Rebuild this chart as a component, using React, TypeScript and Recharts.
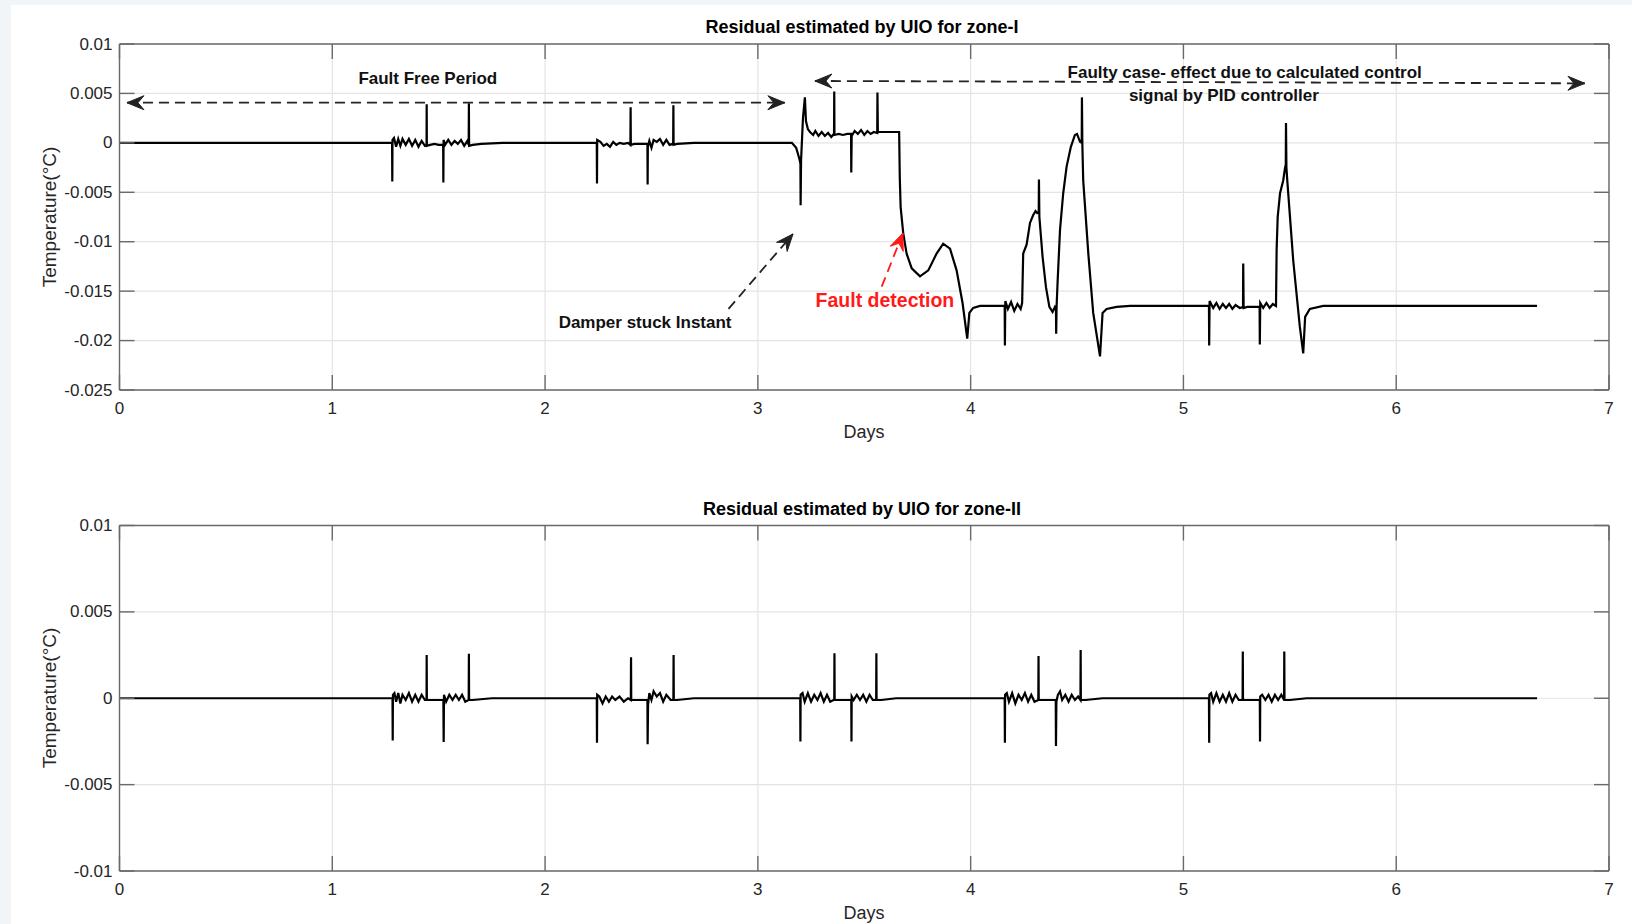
import React from "react";
import { LineChart, Line, XAxis, YAxis, CartesianGrid, ReferenceLine, ReferenceDot } from "recharts";

const FONT = '"Liberation Sans", Arial, Helvetica, sans-serif';
const AXIS = "#6a6a6a";
const GRID = "#e4e4e4";
const TEXT = "#262626";
const TICK_LEN = 15;
const CHART_W = 1632;
const CHART_H = 462;

const dayTicks = [0, 1, 2, 3, 4, 5, 6, 7];
const dayTickLabels = ["0", "1", "2", "3", "4", "5", "6", "7"];

const zone1Ticks = [-0.025, -0.02, -0.015, -0.01, -0.005, 0, 0.005, 0.01];
const zone1TickLabels = ["-0.025", "-0.02", "-0.015", "-0.01", "-0.005", "0", "0.005", "0.01"];

const zone2Ticks = [-0.01, -0.005, 0, 0.005, 0.01];
const zone2TickLabels = ["-0.01", "-0.005", "0", "0.005", "0.01"];

// [day, residual]
const zone1Residual: [number, number][] = [
  [0, 0], [1.281, 0], [1.282, -0.0039], [1.283, 0.0003],
  [1.29, 0.0005], [1.3, -0.0004], [1.31, 0.0004], [1.32, -0.0003], [1.33, 0.0004], [1.345, -0.0002],
  [1.36, 0.0004], [1.375, -0.0003], [1.39, 0.0003], [1.405, -0.0004], [1.42, 0.0002], [1.435, -0.0003],
  [1.443, -0.0002], [1.4436, 0.0039], [1.4445, -0.0003],
  [1.46, -0.0002], [1.48, -0.0001], [1.5, -0.0002], [1.521, -0.0002],
  [1.522, -0.004], [1.523, 0.0003], [1.53, -0.0002], [1.545, 0.0003], [1.56, -0.0002], [1.575, 0.0002],
  [1.59, -0.0001], [1.605, 0.0003], [1.62, -0.0003], [1.635, 0.0002],
  [1.641, -0.0002], [1.642, 0.004], [1.643, -0.0003],
  [1.66, -0.0002], [1.7, -0.0001], [1.8, 0],
  [2.243, 0], [2.244, -0.0041], [2.245, 0.0003], [2.26, 0.0001], [2.275, -0.0003], [2.29, -0.0001],
  [2.305, -0.0004], [2.32, 0.0001], [2.335, -0.0002], [2.35, 0], [2.37, -0.0001], [2.39, 0],
  [2.401, -0.0002], [2.402, 0.0036], [2.403, -0.0002],
  [2.42, -0.0001], [2.45, -0.0001], [2.481, -0.0001], [2.482, -0.0042], [2.483, -0.0004],
  [2.49, 0.0002], [2.5, -0.0005], [2.51, 0.0003], [2.525, 0.0001], [2.54, 0.0004], [2.555, -0.0002],
  [2.57, 0.0003], [2.585, -0.0002], [2.6, -0.0001],
  [2.602, -0.0002], [2.603, 0.0038], [2.604, -0.0002],
  [2.62, -0.0001], [2.7, 0],
  [3.16, 0], [3.18, -0.0005], [3.195, -0.0016], [3.2, -0.0021], [3.201, -0.0063], [3.203, -0.0018],
  [3.212, 0.0025], [3.221, 0.0046], [3.226, 0.0022], [3.235, 0.0014], [3.245, 0.0011],
  [3.26, 0.0008], [3.27, 0.0012], [3.285, 0.0007], [3.3, 0.0011], [3.315, 0.0007], [3.33, 0.001],
  [3.345, 0.0006], [3.357, 0.0009],
  [3.358, 0.0009], [3.359, 0.0052], [3.36, 0.0008],
  [3.38, 0.0009], [3.4, 0.0008], [3.42, 0.0009], [3.438, 0.0009], [3.439, -0.003], [3.441, 0.0007],
  [3.455, 0.0012], [3.47, 0.0009], [3.485, 0.0013], [3.5, 0.0008], [3.515, 0.0012], [3.53, 0.0009],
  [3.545, 0.0011], [3.561, 0.001],
  [3.562, 0.0051], [3.564, 0.0011],
  [3.6, 0.0011], [3.664, 0.0011],
  [3.667, -0.0035], [3.671, -0.0065], [3.683, -0.0091], [3.699, -0.0112], [3.723, -0.0127],
  [3.762, -0.0135], [3.801, -0.0129], [3.84, -0.0112], [3.871, -0.0102], [3.903, -0.0107],
  [3.934, -0.0129], [3.962, -0.0162], [3.984, -0.0198], [3.994, -0.0172], [4.012, -0.0167], [4.044, -0.0165],
  [4.16, -0.0165], [4.161, -0.0205], [4.163, -0.016],
  [4.175, -0.0168], [4.19, -0.0161], [4.205, -0.017], [4.22, -0.0163], [4.235, -0.0168], [4.242, -0.0162],
  [4.247, -0.0112], [4.263, -0.0103], [4.279, -0.0081], [4.294, -0.0073], [4.305, -0.0069], [4.313, -0.0071],
  [4.32, -0.007], [4.321, -0.0037], [4.323, -0.0075],
  [4.338, -0.0115], [4.354, -0.0146], [4.37, -0.0166], [4.385, -0.0171], [4.396, -0.0166],
  [4.401, -0.0168], [4.402, -0.0193], [4.404, -0.0165],
  [4.409, -0.0139], [4.42, -0.0088], [4.435, -0.0051], [4.451, -0.0024], [4.471, -0.0004],
  [4.49, 0.0008], [4.5, 0.0009], [4.514, 0.0001], [4.522, 0], [4.523, 0.0046], [4.525, -0.0002],
  [4.529, -0.0038], [4.553, -0.0112], [4.576, -0.0172], [4.608, -0.0216], [4.62, -0.0172],
  [4.639, -0.0168], [4.686, -0.0166], [4.75, -0.0165],
  [5.12, -0.0165], [5.121, -0.0205], [5.123, -0.016],
  [5.14, -0.0167], [5.155, -0.0162], [5.17, -0.0168], [5.185, -0.0163], [5.2, -0.0167], [5.215, -0.0163],
  [5.23, -0.0168], [5.245, -0.0164], [5.265, -0.0167], [5.28, -0.0166],
  [5.281, -0.0122], [5.283, -0.0167],
  [5.3, -0.0166], [5.33, -0.0166], [5.358, -0.0166], [5.359, -0.0204], [5.361, -0.0162],
  [5.375, -0.0167], [5.39, -0.0162], [5.405, -0.0167], [5.42, -0.0163], [5.435, -0.0165],
  [5.438, -0.0108], [5.443, -0.0075], [5.454, -0.0051], [5.469, -0.0038], [5.477, -0.0026],
  [5.481, -0.0022], [5.482, 0.002], [5.484, -0.0025],
  [5.488, -0.0038], [5.516, -0.0119], [5.547, -0.0186], [5.563, -0.0213], [5.572, -0.0176],
  [5.594, -0.0168], [5.657, -0.0165],
  [6.662, -0.0165],
];

// [day, residual]
const zone2Residual: [number, number][] = [
  [0, 0], [1.283, 0], [1.284, -0.00245], [1.285, 0.0002],
  [1.292, 0.0003], [1.3, -0.0002], [1.31, 0.0003], [1.32, -0.0003], [1.33, 0.0002], [1.345, -0.0001],
  [1.36, 0.0003], [1.375, -0.0002], [1.39, 0.0002], [1.405, -0.0002], [1.42, 0.0002], [1.435, -0.0001],
  [1.443, -0.0001], [1.4436, 0.0025], [1.4445, -0.0001],
  [1.47, -0.0001], [1.5, -0.0001], [1.522, -0.0001], [1.5235, -0.00253], [1.525, 0.0002],
  [1.535, -0.0002], [1.55, 0.0002], [1.565, -0.0001], [1.58, 0.0002], [1.595, -0.0001], [1.61, 0.0002],
  [1.625, -0.0002], [1.64, -0.0001], [1.641, -0.0001], [1.642, 0.00258], [1.643, -0.0001],
  [1.66, -0.0001], [1.75, 0],
  [2.243, 0], [2.244, -0.00257], [2.245, 0.0002], [2.255, 0.0001], [2.27, -0.0003], [2.285, 0.0001],
  [2.3, -0.0002], [2.315, 0.0001], [2.33, -0.0001], [2.35, 0.0001], [2.37, -0.0002], [2.39, 0],
  [2.403, -0.0001], [2.404, 0.00237], [2.405, -0.0001],
  [2.44, -0.0001], [2.481, -0.0001], [2.482, -0.00266], [2.484, -0.0004],
  [2.49, 0.0003], [2.5, -0.0001], [2.51, 0.0004], [2.525, 0.0001], [2.54, 0.0003], [2.555, -0.0002],
  [2.57, 0.0002], [2.59, -0.0001], [2.603, -0.0001], [2.604, 0.0025], [2.605, -0.0001],
  [2.62, -0.0001], [2.7, 0],
  [3.199, 0], [3.2, -0.0025], [3.201, 0.0002], [3.21, 0.0003], [3.22, -0.0002], [3.235, 0.0003],
  [3.25, -0.0002], [3.265, 0.0002], [3.28, -0.0001], [3.295, 0.0003], [3.31, -0.0002], [3.325, 0.0002],
  [3.34, -0.0002], [3.355, -0.0001], [3.359, -0.0001], [3.36, 0.0026], [3.361, -0.0001],
  [3.4, -0.0001], [3.439, -0.0001], [3.44, -0.0025], [3.441, 0.0001],
  [3.45, -0.0001], [3.465, 0.0002], [3.48, -0.0001], [3.495, 0.0002], [3.51, -0.0002], [3.525, 0.0002],
  [3.54, -0.0001], [3.556, -0.0001], [3.557, 0.0026], [3.558, -0.0001],
  [3.58, -0.0001], [3.65, 0],
  [4.16, 0], [4.161, -0.00257], [4.162, 0.0002], [4.17, 0.0003], [4.18, -0.0002], [4.195, 0.0003],
  [4.21, -0.0003], [4.225, 0.0002], [4.24, -0.0001], [4.255, 0.0003], [4.27, -0.0002], [4.285, 0.0002],
  [4.3, -0.0002], [4.318, -0.0001], [4.319, 0.00245], [4.32, -0.0001],
  [4.36, -0.0001], [4.4, -0.0001], [4.401, -0.00276], [4.403, -0.0002],
  [4.41, 0.0002], [4.42, 0.0004], [4.43, -0.0001], [4.445, 0.0002], [4.46, -0.0002], [4.475, 0.0002],
  [4.49, -0.0001], [4.505, 0.0001], [4.516, -0.0001], [4.517, 0.0028], [4.518, -0.0001],
  [4.54, -0.0001], [4.62, 0],
  [5.12, 0], [5.121, -0.00257], [5.122, 0.0002], [5.13, 0.0003], [5.14, -0.0002], [5.155, 0.0003],
  [5.17, -0.0002], [5.185, 0.0002], [5.2, -0.0002], [5.215, 0.0003], [5.23, -0.0002], [5.245, 0.0002],
  [5.26, -0.0001], [5.278, -0.0001], [5.279, 0.0027], [5.28, -0.0001],
  [5.32, -0.0001], [5.359, -0.0001], [5.36, -0.0025], [5.361, 0.0001],
  [5.37, 0.0002], [5.385, -0.0001], [5.4, 0.0002], [5.415, -0.0002], [5.43, 0.0002], [5.445, -0.0001],
  [5.46, 0.0002], [5.473, -0.0001], [5.474, 0.0027], [5.475, -0.0001],
  [5.5, -0.0001], [5.58, 0],
  [6.662, 0],
];

// annotation arrows: [fromDay, fromValue, toDay, toValue]
const faultFreeArrow = [0.035, 0.00406, 3.127, 0.00406];
const faultyArrow = [3.268, 0.00626, 6.887, 0.00602];
const damperArrow = [2.862, -0.0168, 3.165, -0.00922];
const detectionArrow = [3.582, -0.01455, 3.682, -0.00912];

// annotation texts: [day, value, text]
const zone1Notes: [number, number, string][] = [
  [1.449, 0.00656, "Fault Free Period"],
  [5.288, 0.00719, "Faulty case- effect due to calculated control"],
  [5.19, 0.00487, "signal by PID controller"],
  [2.47, -0.01808, "Damper stuck Instant"],
];
const detectionNote: [number, number, string] = [3.597, -0.0159, "Fault detection"];

const toRows = (pts: [number, number][]) => pts.map(([day, v]) => ({ day, v }));

const head = (tx: number, ty: number, ux: number, uy: number, color: string, key: string) => {
  const L = 17, W = 7, N = 11;
  const nx = -uy, ny = ux;
  const p = [
    [tx, ty],
    [tx - L * ux + W * nx, ty - L * uy + W * ny],
    [tx - N * ux, ty - N * uy],
    [tx - L * ux - W * nx, ty - L * uy - W * ny],
  ];
  return <polygon key={key} points={p.map((q) => q.join(",")).join(" ")} fill={color} stroke={color} strokeWidth={1} />;
};

const arrowShape = (color: string, both: boolean) => (props: any) => {
  const { x1, y1, x2, y2 } = props;
  const len = Math.hypot(x2 - x1, y2 - y1) || 1;
  const ux = (x2 - x1) / len, uy = (y2 - y1) / len;
  return (
    <g>
      <line x1={x1} y1={y1} x2={x2} y2={y2} stroke={color} strokeWidth={1.8} strokeDasharray="10 6" />
      {head(x2, y2, ux, uy, color, "e")}
      {both && head(x1, y1, -ux, -uy, color, "s")}
    </g>
  );
};

// ticks point inwards on all four sides of the box (MATLAB style);
// the bottom/left ticks also draw their top/right twins across the plot
const xTick = (plotH: number) => (props: any) => {
  const { x, y, payload } = props;
  const label = dayTickLabels[dayTicks.indexOf(payload.value)];
  return (
    <g>
      <line x1={x} y1={y} x2={x} y2={y - TICK_LEN} stroke={AXIS} strokeWidth={1.4} />
      <line x1={x} y1={y - plotH} x2={x} y2={y - plotH + TICK_LEN} stroke={AXIS} strokeWidth={1.4} />
      <text x={x} y={y + 18} textAnchor="middle" dominantBaseline="central" fontSize={17} fill={TEXT} fontFamily={FONT}>
        {label}
      </text>
    </g>
  );
};

const yTick = (plotW: number, ticks: number[], labels: string[]) => (props: any) => {
  const { x, y, payload } = props;
  const label = labels[ticks.indexOf(payload.value)];
  return (
    <g>
      <line x1={x} y1={y} x2={x + TICK_LEN} y2={y} stroke={AXIS} strokeWidth={1.4} />
      <line x1={x + plotW} y1={y} x2={x + plotW - TICK_LEN} y2={y} stroke={AXIS} strokeWidth={1.4} />
      <text x={x - 7} y={y} textAnchor="end" dominantBaseline="central" fontSize={17} fill={TEXT} fontFamily={FONT}>
        {label}
      </text>
    </g>
  );
};

const noteLabel = (text: string, color: string, size: number) => ({
  value: text,
  position: "center" as const,
  fill: color,
  fontSize: size,
  fontWeight: 700,
  fontFamily: FONT,
});

// axes are 1px thick so they still render; margins are reduced by that pixel
const Panel = ({
  rows,
  yTicks,
  yLabels,
  margin,
  children,
}: {
  rows: { day: number; v: number }[];
  yTicks: number[];
  yLabels: string[];
  margin: { top: number; right: number; bottom: number; left: number };
  children?: React.ReactNode;
}) => {
  const yDomain = [yTicks[0], yTicks[yTicks.length - 1]];
  const axisLine = { stroke: AXIS, strokeWidth: 1.4 };
  const plotW = CHART_W - margin.left - margin.right - 2;
  const plotH = CHART_H - margin.top - margin.bottom - 2;
  return (
    <LineChart width={CHART_W} height={CHART_H} data={rows} margin={margin}>
      <CartesianGrid stroke={GRID} strokeWidth={1.2} />
      <XAxis
        dataKey="day"
        type="number"
        domain={[0, 7]}
        ticks={dayTicks}
        interval={0}
        height={1}
        tickSize={0}
        tickMargin={0}
        axisLine={axisLine}
        tickLine={false}
        tick={xTick(plotH)}
      />
      <XAxis xAxisId="top" orientation="top" dataKey="day" type="number" domain={[0, 7]} height={1} axisLine={axisLine} tickLine={false} tick={false} />
      <YAxis
        type="number"
        domain={yDomain}
        ticks={yTicks}
        interval={0}
        width={1}
        tickSize={0}
        tickMargin={0}
        axisLine={axisLine}
        tickLine={false}
        tick={yTick(plotW, yTicks, yLabels)}
      />
      <YAxis yAxisId="right" orientation="right" type="number" domain={yDomain} width={1} axisLine={axisLine} tickLine={false} tick={false} />
      <Line type="linear" dataKey="v" stroke="#000" strokeWidth={2.2} dot={false} isAnimationActive={false} />
      {children}
    </LineChart>
  );
};

const seg = (a: number[]) => [
  { x: a[0], y: a[1] },
  { x: a[2], y: a[3] },
];

const abs = (left: number, top: number, extra: React.CSSProperties = {}): React.CSSProperties => ({
  position: "absolute",
  left,
  top,
  transform: "translate(-50%, -50%)",
  whiteSpace: "nowrap",
  fontFamily: FONT,
  ...extra,
});

export default function App() {
  return (
    <div style={{ position: "absolute", left: 0, top: 0, width: 1632, height: 924, background: "#f2f5f8", overflow: "hidden" }}>
      <div style={{ position: "absolute", left: 11, top: 5, right: 0, bottom: 0, background: "#fff" }} />

      <div style={{ position: "absolute", left: 0, top: 0 }}>
        <Panel rows={toRows(zone1Residual)} yTicks={zone1Ticks} yLabels={zone1TickLabels} margin={{ top: 43, right: 22, bottom: 71, left: 118.5 }}>
          {[
            <ReferenceLine key="a1" segment={seg(faultFreeArrow)} shape={arrowShape("#222", true)} />,
            <ReferenceLine key="a2" segment={seg(faultyArrow)} shape={arrowShape("#222", true)} />,
            <ReferenceLine key="a3" segment={seg(damperArrow)} shape={arrowShape("#222", false)} />,
            <ReferenceLine key="a4" segment={seg(detectionArrow)} shape={arrowShape("#ff1a1a", false)} />,
            ...zone1Notes.map(([d, v, t], i) => (
              <ReferenceDot key={"n" + i} x={d} y={v} r={0} fill="none" stroke="none" label={noteLabel(t, "#111", 17)} />
            )),
            <ReferenceDot
              key="nd"
              x={detectionNote[0]}
              y={detectionNote[1]}
              r={0}
              fill="none"
              stroke="none"
              label={noteLabel(detectionNote[2], "#ff1a1a", 19.5)}
            />,
          ]}
        </Panel>
      </div>

      <div style={{ position: "absolute", left: 0, top: 462 }}>
        <Panel rows={toRows(zone2Residual)} yTicks={zone2Ticks} yLabels={zone2TickLabels} margin={{ top: 62.5, right: 22, bottom: 52, left: 118.5 }} />
      </div>

      <div style={abs(862, 27, { fontSize: 18, fontWeight: 700, color: "#000" })}>Residual estimated by UIO for zone-I</div>
      <div style={abs(862, 509, { fontSize: 18, fontWeight: 700, color: "#000" })}>Residual estimated by UIO for zone-II</div>
      <div style={abs(864, 432, { fontSize: 18, color: TEXT })}>Days</div>
      <div style={abs(864, 913, { fontSize: 18, color: TEXT })}>Days</div>
      <div style={abs(50, 217, { fontSize: 19, color: TEXT, transform: "translate(-50%, -50%) rotate(-90deg)" })}>Temperature(°C)</div>
      <div style={abs(50, 698, { fontSize: 19, color: TEXT, transform: "translate(-50%, -50%) rotate(-90deg)" })}>Temperature(°C)</div>
    </div>
  );
}
